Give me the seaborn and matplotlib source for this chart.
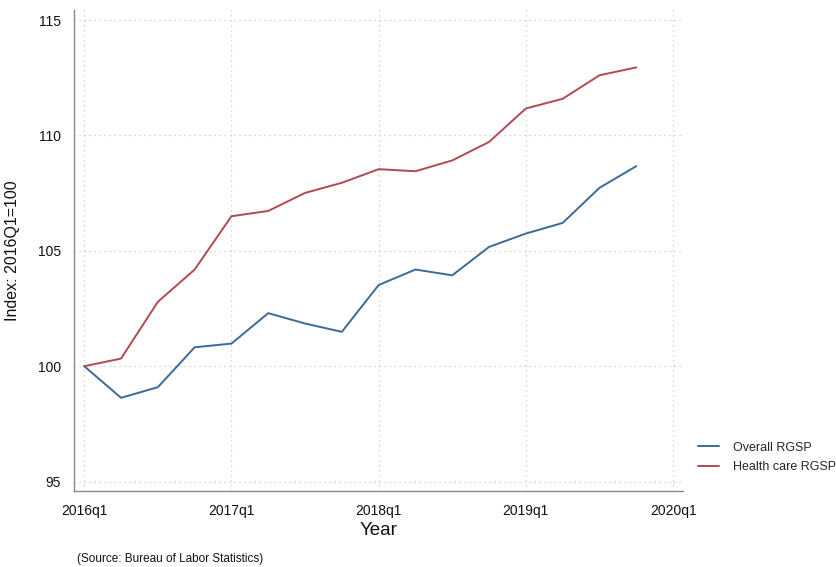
import numpy as np
import pandas as pd
import matplotlib
matplotlib.use("Agg")
import matplotlib.pyplot as plt
import seaborn as sns

# ==========================================
# Data (index, 2016Q1 = 100)
# ==========================================

quarters = ["2016q1", "2016q2", "2016q3", "2016q4",
            "2017q1", "2017q2", "2017q3", "2017q4",
            "2018q1", "2018q2", "2018q3", "2018q4",
            "2019q1", "2019q2", "2019q3", "2019q4"]

overall = [100.0, 98.63, 99.09, 100.82, 100.98, 102.30, 101.85, 101.49,
           103.52, 104.19, 103.94, 105.17, 105.75, 106.21, 107.73, 108.67]

health = [100.0, 100.33, 102.79, 104.19, 106.50, 106.73, 107.51, 107.95,
          108.54, 108.45, 108.92, 109.72, 111.17, 111.59, 112.61, 112.95]

tick_labels = ["2016q1", "2017q1", "2018q1", "2019q1", "2020q1"]
tick_pos = [0, 4, 8, 12, 16]
y_ticks = [95, 100, 105, 110, 115]

df = pd.DataFrame({
    "t": list(range(len(quarters))) * 2,
    "value": overall + health,
    "series": ["Overall RGSP"] * len(quarters) + ["Health care RGSP"] * len(quarters),
})

# ==========================================
# Plot
# ==========================================

sns.set_style("white")
plt.rcParams["font.family"] = ["Liberation Sans", "DejaVu Sans"]

fig = plt.figure(figsize=(8.36, 5.67), dpi=100)
ax = fig.add_axes([0.088, 0.134, 0.729, 0.848])

palette = {"Overall RGSP": "#3b6a99", "Health care RGSP": "#b04a50"}
sns.lineplot(data=df, x="t", y="value", hue="series", palette=palette,
             linewidth=1.4, ax=ax)

ax.set_xlim(-0.29, 16.27)
ax.set_ylim(94.59, 115.43)
ax.set_xticks(tick_pos)
ax.set_xticklabels(tick_labels)
ax.set_yticks(y_ticks)

ax.grid(True, linestyle=(0, (1, 3)), color="#c8c8c8", linewidth=0.9)
for s in ["top", "right"]:
    ax.spines[s].set_visible(False)
for s in ["left", "bottom"]:
    ax.spines[s].set_color("#8a8a8a")
    ax.spines[s].set_linewidth(1.0)
ax.tick_params(axis="both", direction="out", length=5, width=1.0,
               color="#8a8a8a", labelsize=10, labelcolor="#111111", pad=4)

ax.set_xlabel("Year", fontsize=13.5, labelpad=3, color="#111111")
ax.set_ylabel("Index: 2016Q1=100", fontsize=11.5, color="#111111")
ax.yaxis.set_label_coords(-0.088, 0.5)

leg = ax.legend(loc="center left", bbox_to_anchor=(1.016, 0.07), frameon=False,
                fontsize=9, handlelength=1.7, handletextpad=1.1,
                labelspacing=0.6, borderaxespad=0.0)

fig.text(0.092, 0.008, "(Source: Bureau of Labor Statistics)", fontsize=8.5,
         color="#111111")

plt.savefig("out.png", dpi=100)
plt.close()
